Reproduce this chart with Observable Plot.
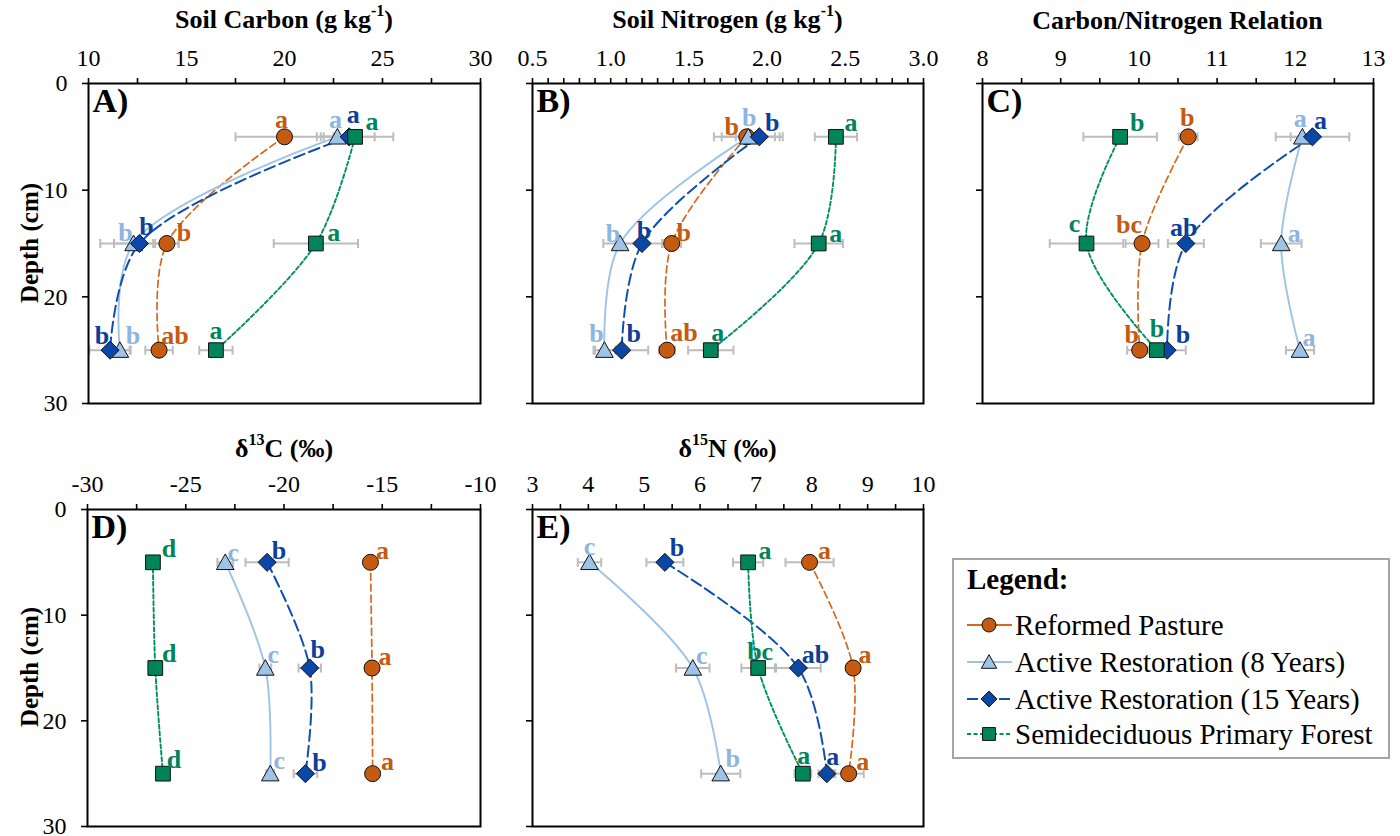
<!DOCTYPE html>
<html>
<head>
<meta charset="utf-8">
<script src="https://cdn.jsdelivr.net/npm/d3@7"></script>
<script src="https://cdn.jsdelivr.net/npm/@observablehq/plot@0.6"></script>
<style>
  body { margin: 0; background: #fff; }
  #root { position: relative; width: 1400px; height: 836px; overflow: hidden; background: #fff;
          font-family: "Liberation Serif", "Times New Roman", serif; color: #000; }
  .panel { position: absolute; }
  .panel svg { overflow: visible; }
  .title { position: absolute; font-weight: bold; font-size: 26px; transform: translate(-50%, -50%); white-space: nowrap; line-height: 30px; }
  .title sup { font-size: 16px; vertical-align: baseline; position: relative; top: -0.75em; }
  .ytitle { position: absolute; font-weight: bold; font-size: 25px; transform: translate(-50%, -50%) rotate(-90deg); white-space: nowrap; line-height: 30px; }
  #legend { position: absolute; left: 952px; top: 558px; width: 438px; height: 201px; box-sizing: border-box;
            border: 2px solid #A6A6A6; background: #fff; }
  #legend .lt { position: absolute; white-space: nowrap; line-height: 30px; font-size: 29px; }
  #legend svg { position: absolute; }
</style>
</head>
<body>
<div id="root"></div>
<script>
// ---------------- DATA ----------------
const depths = [5, 15, 25];
const series = ["Reformed Pasture", "Active Restoration (8 Years)", "Active Restoration (15 Years)", "Semideciduous Primary Forest"];

// Soil carbon (g kg-1): rows = series, cols = depths
const carbonMean = [[20.0, 14.0, 13.6], [22.7, 12.3, 11.6], [23.3, 12.6, 11.1], [23.6, 21.6, 16.5]];
const carbonErr = [[2.5, 0.6, 0.7], [0.85, 1.0, 0.5], [1.3, 2.0, 1.05], [1.95, 2.15, 0.85]];
const carbonLetters = [["a", "b", "ab"], ["a", "b", "b"], ["a", "b", "b"], ["a", "a", "a"]];

// Soil nitrogen (g kg-1)
const nitrogenMean = [[1.87, 1.39, 1.36], [1.88, 1.06, 0.96], [1.95, 1.20, 1.07], [2.44, 2.33, 1.64]];
const nitrogenErr = [[0.21, 0.06, 0.05], [0.17, 0.107, 0.07], [0.15, 0.13, 0.17], [0.135, 0.155, 0.145]];
const nitrogenLetters = [["b", "b", "ab"], ["b", "b", "b"], ["b", "b", "b"], ["a", "a", "a"]];

// Carbon/Nitrogen relation
const cnMean = [[10.63, 10.04, 10.01], [12.09, 11.82, 12.06], [12.22, 10.60, 10.36], [9.76, 9.33, 10.23]];
const cnErr = [[0.12, 0.21, 0.16], [0.15, 0.26, 0.18], [0.47, 0.23, 0.24], [0.47, 0.47, 0.2]];
const cnLetters = [["b", "bc", "b"], ["a", "a", "a"], ["a", "ab", "b"], ["b", "c", "b"]];

// delta 13C (per mil)
const d13cMean = [[-15.6, -15.52, -15.49], [-22.99, -20.95, -20.7], [-20.86, -18.69, -18.91], [-26.67, -26.55, -26.16]];
const d13cErr = [[0.2, 0.2, 0.2], [0.4, 0.3, 0.2], [1.1, 0.57, 0.6], [0.2, 0.2, 0.2]];
const d13cLetters = [["a", "a", "a"], ["c", "c", "c"], ["b", "b", "b"], ["d", "d", "d"]];

// delta 15N (per mil)
const d15nMean = [[7.96, 8.74, 8.66], [4.02, 5.87, 6.37], [5.37, 7.76, 8.27], [6.86, 7.04, 7.84]];
const d15nErr = [[0.43, 0.1, 0.27], [0.21, 0.3, 0.35], [0.33, 0.4, 0.15], [0.27, 0.3, 0.15]];
const d15nLetters = [["a", "a", "a"], ["c", "c", "b"], ["b", "ab", "a"], ["a", "bc", "a"]];

// ---------------- LAYOUT / STYLE ----------------
// letter label offsets [dx, dy] in px, rows = series, cols = depths
const carbonOffsets = [[[-3,-17],[17,-11],[16,-14]], [[-2,-17],[-8,-11],[13,-14]], [[4,-22],[7,-17],[-8,-14]], [[17,-15],[18,-11],[0,-19]]];
const nitrogenOffsets = [[[-15,-10],[12,-11],[17,-17]], [[1,-19],[-7,-10],[-8,-16]], [[13,-14],[2,-13],[12,-16]], [[15,-14],[17,-10],[7,-17]]];
const cnOffsets = [[[-1,-19],[-13,-19],[-8,-15]], [[-2,-18],[13,-10],[9,-12]], [[8,-16],[-2,-16],[16,-15]], [[17,-14],[-12,-20],[0,-21]]];
const d13cOffsets = [[[12,-12],[13,-11],[15,-12]], [[8,-10],[8,-13],[9,-13]], [[12,-12],[8,-18],[14,-11]], [[16,-14],[14,-14],[11,-14]]];
const d15nOffsets = [[[15,-12],[12,-13],[14,-12]], [[0,-16],[9,-12],[12,-15]], [[12,-15],[17,-13],[6,-17]], [[17,-12],[2,-16],[1,-18]]];

const fillColors = ["#C55A11", "#9DC3E6", "#0B47A6", "#00845A"];
const lineColors = ["#D2691E", "#9DC3E6", "#0E4FB0", "#00915F"];
const letterColors = ["#C55A11", "#8DB4E2", "#0B3F9A", "#00845A"];
const dashes = ["7,4", null, "11,5", "4,2.5"];
const lineWidths = [1.7, 1.9, 2, 1.9];
const errColor = "#BDBDBD";

const symCircle = {draw(ctx, size) { const r = Math.sqrt(size / Math.PI); ctx.moveTo(r, 0); ctx.arc(0, 0, r, 0, 2 * Math.PI); }};
const symTriangle = {draw(ctx, size) { const r = Math.sqrt(size / Math.PI); ctx.moveTo(0, -1.05 * r); ctx.lineTo(1.1 * r, 0.9 * r); ctx.lineTo(-1.1 * r, 0.9 * r); ctx.closePath(); }};
const symDiamond = {draw(ctx, size) { const r = Math.sqrt(size / Math.PI) * 1.13; ctx.moveTo(0, -r); ctx.lineTo(r, 0); ctx.lineTo(0, r); ctx.lineTo(-r, 0); ctx.closePath(); }};
const symSquare = {draw(ctx, size) { const r = Math.sqrt(size / Math.PI) * 0.92; ctx.rect(-r, -r, 2 * r, 2 * r); }};
const symCap = {draw(ctx, size) { const r = Math.sqrt(size / Math.PI); ctx.moveTo(0, -r); ctx.lineTo(0, r); }};
const symbols = [symCircle, symTriangle, symDiamond, symSquare];

const fmtEvery = (step) => (d) => Math.abs(d / step - Math.round(d / step)) < 1e-6 ? String(d) : "";

const panels = [
  {label: "A)", left: 0, top: 0, width: 490, height: 410, ml: 88, mr: 10, mt: 83, mb: 7,
   domain: [10, 30], ticks: d3.range(0, 9).map(i => 10 + i * 2.5), fmt: fmtEvery(5),
   means: carbonMean, errs: carbonErr, letters: carbonLetters, offsets: carbonOffsets, ylab: true},
  {label: "B)", left: 500, top: 0, width: 430, height: 410, ml: 32, mr: 7, mt: 83, mb: 7,
   domain: [0.5, 3.0], ticks: d3.range(5, 31).map(i => i / 10),
   fmt: d => (Math.round(d * 10) % 5 === 0) ? d.toFixed(1) : "",
   means: nitrogenMean, errs: nitrogenErr, letters: nitrogenLetters, offsets: nitrogenOffsets, ylab: false},
  {label: "C)", left: 950, top: 0, width: 450, height: 410, ml: 32, mr: 27, mt: 83, mb: 7,
   domain: [8, 13], ticks: d3.range(16, 27).map(i => i / 2), fmt: fmtEvery(1),
   means: cnMean, errs: cnErr, letters: cnLetters, offsets: cnOffsets, ylab: false},
  {label: "D)", left: 0, top: 430, width: 490, height: 406, ml: 87, mr: 10, mt: 79, mb: 10,
   domain: [-30, -10], ticks: d3.range(0, 9).map(i => -30 + i * 2.5), fmt: fmtEvery(5),
   means: d13cMean, errs: d13cErr, letters: d13cLetters, offsets: d13cOffsets, ylab: true},
  {label: "E)", left: 500, top: 430, width: 430, height: 406, ml: 32, mr: 7, mt: 79, mb: 10,
   domain: [3, 10], ticks: d3.range(6, 21).map(i => i / 2), fmt: fmtEvery(1),
   means: d15nMean, errs: d15nErr, letters: d15nLetters, offsets: d15nOffsets, ylab: false}
];

const root = document.getElementById("root");

function buildPanel(p) {
  const rows = [];
  series.forEach((s, i) => depths.forEach((d, j) => rows.push({
    series: s, si: i, depth: d, value: p.means[i][j], err: p.errs[i][j],
    letter: p.letters[i][j], off: p.offsets[i][j]
  })));
  const marks = [];
  // error bars
  marks.push(Plot.ruleY(rows, {y: "depth", x1: r => r.value - r.err, x2: r => r.value + r.err, stroke: errColor, strokeWidth: 2}));
  marks.push(Plot.dot(rows, {x: r => r.value - r.err, y: "depth", symbol: symCap, r: 4.5, stroke: errColor, strokeWidth: 2, fill: "none"}));
  marks.push(Plot.dot(rows, {x: r => r.value + r.err, y: "depth", symbol: symCap, r: 4.5, stroke: errColor, strokeWidth: 2, fill: "none"}));
  // smoothed lines
  series.forEach((s, i) => {
    marks.push(Plot.line(rows.filter(r => r.si === i), {
      x: "value", y: "depth", curve: "catmull-rom",
      stroke: lineColors[i], strokeWidth: lineWidths[i], strokeDasharray: dashes[i] || undefined
    }));
  });
  // markers
  series.forEach((s, i) => {
    marks.push(Plot.dot(rows.filter(r => r.si === i), {
      x: "value", y: "depth", symbol: symbols[i], r: 8,
      fill: fillColors[i], stroke: "#111", strokeWidth: 1
    }));
  });
  // significance letters
  rows.forEach(r => {
    marks.push(Plot.text([r], {
      x: "value", y: "depth", text: "letter", dx: r.off[0], dy: r.off[1],
      fill: letterColors[r.si], fontSize: 26, fontWeight: "bold"
    }));
  });
  // panel label
  marks.push(Plot.text([p.label], {frameAnchor: "top-left", text: d => d, dx: 4, dy: 4,
    fontSize: 34, fontWeight: "bold", textAnchor: "start", lineAnchor: "top", fill: "#000"}));
  // axes + frame
  marks.push(Plot.axisX({anchor: "top", ticks: p.ticks, tickFormat: p.fmt, tickSize: 6, tickPadding: 12,
    fontSize: 24, strokeWidth: 1.6, label: null}));
  marks.push(Plot.axisY({anchor: "left", ticks: [0, 10, 20, 30], tickFormat: p.ylab ? (d => String(d)) : (() => ""),
    tickSize: 6, tickPadding: 15, fontSize: 24, strokeWidth: 1.6, label: null}));
  marks.push(Plot.frame({stroke: "#000", strokeWidth: 2}));

  const chart = Plot.plot({
    width: p.width, height: p.height,
    marginLeft: p.ml, marginRight: p.mr, marginTop: p.mt, marginBottom: p.mb,
    x: {domain: p.domain, label: null},
    y: {domain: [0, 30], reverse: true, label: null},
    style: {fontFamily: "Liberation Serif, Times New Roman, serif", color: "#000", background: "transparent", overflow: "visible"},
    marks
  });
  const div = document.createElement("div");
  div.className = "panel";
  div.style.left = p.left + "px";
  div.style.top = p.top + "px";
  div.appendChild(chart);
  root.appendChild(div);
}
panels.forEach(buildPanel);

// titles
const titles = [
  {html: "Soil Carbon (g kg<sup>-1</sup>)", x: 284, y: 21},
  {html: "Soil Nitrogen (g kg<sup>-1</sup>)", x: 727.5, y: 21},
  {html: "Carbon/Nitrogen Relation", x: 1177.5, y: 21},
  {html: "δ<sup>13</sup>C (‰)", x: 284, y: 450},
  {html: "δ<sup>15</sup>N (‰)", x: 727.5, y: 450}
];
titles.forEach(t => {
  const d = document.createElement("div");
  d.className = "title";
  d.innerHTML = t.html;
  d.style.left = t.x + "px";
  d.style.top = t.y + "px";
  root.appendChild(d);
});
[243, 667].forEach(y => {
  const d = document.createElement("div");
  d.className = "ytitle";
  d.textContent = "Depth (cm)";
  d.style.left = "30px";
  d.style.top = y + "px";
  root.appendChild(d);
});

// legend
const legend = document.createElement("div");
legend.id = "legend";
root.appendChild(legend);
const lh = document.createElement("div");
lh.className = "lt";
lh.style.left = "13px";
lh.style.top = "4px";
lh.style.fontWeight = "bold";
lh.textContent = "Legend:";
legend.appendChild(lh);
const rowCenters = [65, 102, 139, 174];
series.forEach((s, i) => {
  const cy = rowCenters[i];
  const svg = d3.create("svg").attr("width", 50).attr("height", 30)
    .style("left", "11px").style("top", (cy - 15) + "px");
  svg.append("line").attr("x1", 2).attr("x2", 47).attr("y1", 15).attr("y2", 15)
    .attr("stroke", lineColors[i]).attr("stroke-width", 1.8)
    .attr("stroke-dasharray", i === 0 ? "15,8,1000" : (dashes[i] || null));
  svg.append("path").attr("transform", "translate(24,15)")
    .attr("d", d3.symbol(symbols[i], Math.PI * 7 * 7)())
    .attr("fill", fillColors[i]).attr("stroke", "#111").attr("stroke-width", 1);
  legend.appendChild(svg.node());
  const t = document.createElement("div");
  t.className = "lt";
  t.style.left = "61px";
  t.style.top = (cy - 15) + "px";
  t.textContent = s;
  legend.appendChild(t);
});
</script>
</body>
</html>
